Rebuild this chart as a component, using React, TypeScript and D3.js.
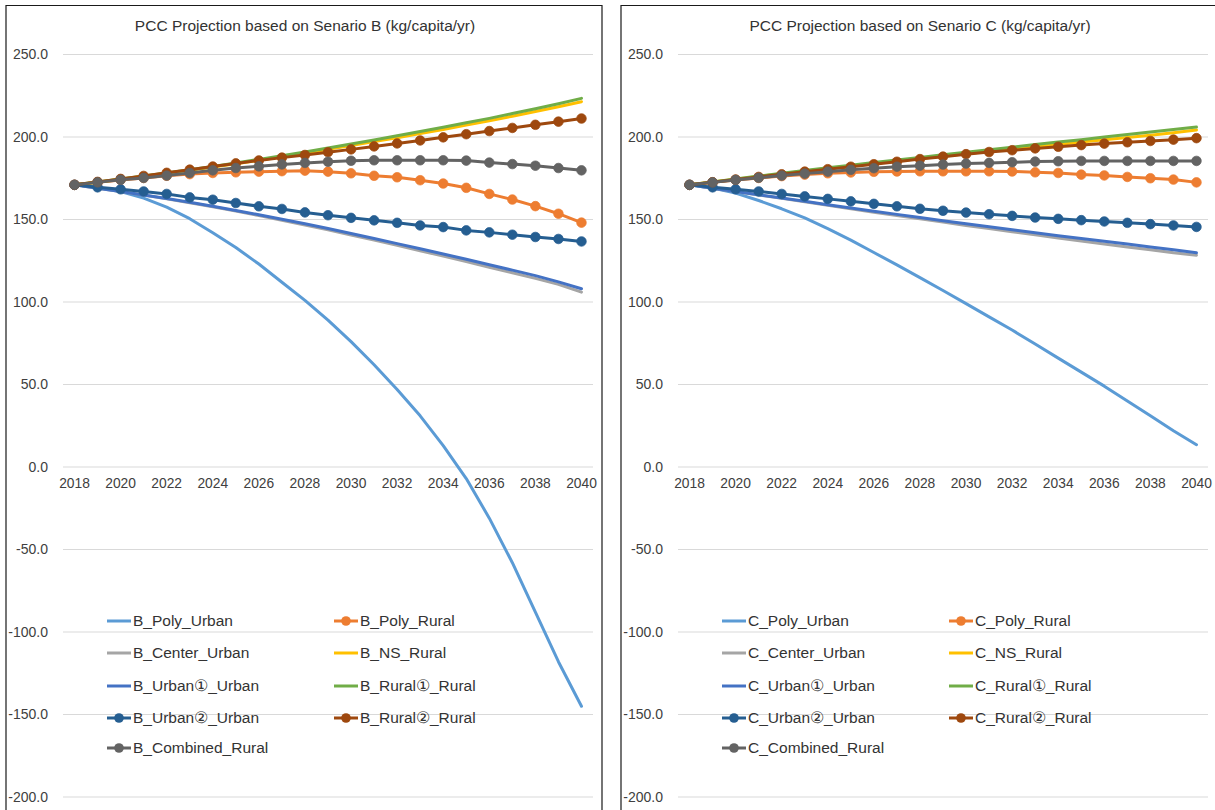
import React from "react";
import * as d3 from "d3";

const years = [2018, 2019, 2020, 2021, 2022, 2023, 2024, 2025, 2026, 2027, 2028, 2029, 2030, 2031, 2032, 2033, 2034, 2035, 2036, 2037, 2038, 2039, 2040];
const xTickYears = [2018, 2020, 2022, 2024, 2026, 2028, 2030, 2032, 2034, 2036, 2038, 2040];
const yTicks = [-200, -150, -100, -50, 0, 50, 100, 150, 200, 250];

// Scenario B
const bPolyUrban = [171, 169.5, 167, 163, 157.5, 150.5, 142, 133, 123, 112, 101, 89, 76, 62, 47, 31, 13, -7, -31, -58, -88, -118, -145];
const bPolyRural = [171, 172.5, 174, 175.2, 176.5, 177.5, 178.2, 178.6, 179, 179.3, 179.6, 179, 178, 176.5, 175.6, 173.8, 171.8, 169.2, 165.5, 162.1, 158.1, 153.5, 148.1];
const bCenterUrban = [171, 169, 166.9, 164.8, 162.5, 160.1, 157.7, 155.1, 152.4, 149.6, 146.7, 143.7, 140.6, 137.5, 134.3, 131.1, 127.8, 124.5, 121.1, 117.7, 114.3, 110.7, 106];
const bNSRural = [171, 172.6, 174.4, 176.2, 178, 179.9, 181.8, 183.8, 185.9, 188, 190.2, 192.5, 194.8, 197.2, 199.6, 202.1, 204.6, 207.2, 209.8, 212.6, 215.4, 218.3, 221.4];
const bUrban1 = [171, 169, 167, 164.9, 162.7, 160.4, 158, 155.5, 152.9, 150.2, 147.4, 144.5, 141.5, 138.5, 135.4, 132.3, 129.1, 125.9, 122.6, 119.3, 116, 112.2, 108];
const bRural1 = [171, 172.7, 174.5, 176.3, 178.2, 180.1, 182.1, 184.2, 186.4, 188.6, 190.9, 193.3, 195.7, 198.2, 200.7, 203.3, 205.9, 208.6, 211.3, 214.2, 217.1, 220.2, 223.4];
const bUrban2 = [171, 169.5, 168.3, 167, 165.5, 163.4, 162, 160, 158, 156.4, 154.3, 152.6, 151, 149.5, 148, 146.4, 145.4, 143.4, 142.2, 140.8, 139.4, 138.2, 136.7];
const bRural2 = [171, 172.8, 174.6, 176.4, 178.3, 180.2, 182.1, 184, 185.8, 187.5, 189.1, 190.8, 192.5, 194.3, 196.1, 197.9, 199.8, 201.7, 203.6, 205.5, 207.4, 209.3, 211.2];
const bCombined = [171, 172.5, 174.1, 175.2, 176.6, 178.2, 179.8, 181.2, 182.2, 183.4, 184.3, 185, 185.6, 185.9, 185.9, 185.9, 185.9, 185.7, 184.5, 183.6, 182.6, 181.2, 179.8];

// Scenario C
const cPolyUrban = [171, 169, 166, 161.5, 156.5, 151, 144.5, 137.5, 130, 122.5, 114.8, 107, 99, 91, 83, 74.5, 66, 57.5, 49, 40, 31, 22, 13.5];
const cPolyRural = [171, 172.5, 174, 175.2, 176.3, 177.2, 178, 178.5, 178.9, 179.1, 179.2, 179.2, 179.2, 179.2, 179.1, 178.6, 178.2, 177.2, 176.7, 175.8, 175, 174.2, 172.5];
const cCenterUrban = [171, 169, 166.9, 164.9, 162.8, 160.7, 158.6, 156.5, 154.4, 152.4, 150.4, 148.4, 146.4, 144.5, 142.6, 140.7, 138.8, 137, 135.2, 133.4, 131.6, 129.8, 128.4];
const cNSRural = [171, 172.7, 174.4, 176.1, 177.7, 179.3, 180.9, 182.4, 183.9, 185.4, 186.9, 188.4, 189.8, 191.3, 192.7, 194.1, 195.5, 196.9, 198.3, 199.7, 201.1, 202.6, 204.3];
const cUrban1 = [171, 169, 167, 165, 163, 161, 159, 157, 155, 153.1, 151.2, 149.3, 147.4, 145.6, 143.8, 142, 140.2, 138.5, 136.8, 135.1, 133.4, 131.6, 129.8];
const cRural1 = [171, 172.8, 174.6, 176.3, 178, 179.7, 181.3, 182.9, 184.5, 186.1, 187.6, 189.2, 190.7, 192.3, 193.8, 195.4, 196.9, 198.4, 200, 201.5, 203, 204.5, 206];
const cUrban2 = [171, 169.5, 168.3, 167, 165.5, 164, 162.5, 161, 159.5, 158, 156.5, 155.3, 154.2, 153.2, 152.2, 151.2, 150.4, 149.6, 148.8, 148, 147.2, 146.4, 145.5];
const cRural2 = [171, 172.6, 174.2, 175.8, 177.4, 179, 180.5, 182, 183.5, 185, 186.6, 188.1, 189.6, 190.9, 192, 193.1, 194.1, 195.1, 196, 196.8, 197.6, 198.4, 199.3];
const cCombined = [171, 172.5, 174, 175.3, 176.6, 177.8, 179, 180.1, 181.1, 182, 182.6, 183.3, 183.9, 184.3, 184.7, 185.1, 185.3, 185.5, 185.5, 185.5, 185.5, 185.5, 185.5];

const seriesSuffixes = ["Poly_Urban", "Poly_Rural", "Center_Urban", "NS_Rural", "Urban①_Urban", "Rural①_Rural", "Urban②_Urban", "Rural②_Rural", "Combined_Rural"];
const seriesColors = ["#5B9BD5", "#ED7D31", "#A5A5A5", "#FFC000", "#4472C4", "#70AD47", "#255E91", "#9E480E", "#636363"];
const seriesMarkers = [false, true, false, false, false, false, true, true, true];

const FONT = "'Liberation Sans', Arial, Helvetica, sans-serif";

const yScale = d3.scaleLinear().domain([-200, 250]).range([797, 54.5]);

function Panel({ ox, title, prefix, data }: { ox: number; title: string; prefix: string; data: number[][] }) {
  const x = d3.scalePoint<number>().domain(years).range([63 + ox, 593 + ox]).padding(0.5);
  const line = d3
    .line<number>()
    .x((_, i) => x(years[i]) as number)
    .y((d) => yScale(d));

  const legendCols = [107 + ox, 334 + ox];
  const legendRows = [621, 653, 686, 718, 748];

  return (
    <g>
      <path d={`M${6 + ox},820 V5.5 H${602 + ox} V820`} fill="none" stroke="#1a1a1a" strokeWidth={1.2} />
      <text x={305 + ox} y={30.5} textAnchor="middle" fontFamily={FONT} fontSize={15.5} fill="#333">
        {title}
      </text>
      {yTicks.map((t) => (
        <g key={t}>
          <line x1={63 + ox} x2={593 + ox} y1={yScale(t)} y2={yScale(t)} stroke="#D9D9D9" strokeWidth={1} />
          <text x={48 + ox} y={yScale(t)} dy="0.35em" textAnchor="end" fontFamily={FONT} fontSize={14} fill="#404040">
            {t.toFixed(1)}
          </text>
        </g>
      ))}
      {xTickYears.map((yr) => (
        <text key={yr} x={x(yr)} y={487.5} textAnchor="middle" fontFamily={FONT} fontSize={13.8} fill="#404040">
          {yr}
        </text>
      ))}
      {data.map((vals, si) => (
        <g key={si}>
          <path d={line(vals) || ""} fill="none" stroke={seriesColors[si]} strokeWidth={3} strokeLinejoin="round" strokeLinecap="round" />
          {seriesMarkers[si] &&
            vals.map((v, i) => <circle key={i} cx={x(years[i])} cy={yScale(v)} r={4.8} fill={seriesColors[si]} stroke={seriesColors[si]} strokeWidth={0.75} />)}
        </g>
      ))}
      {seriesSuffixes.map((s, si) => {
        const lx = legendCols[si % 2];
        const ly = legendRows[Math.floor(si / 2)];
        return (
          <g key={s}>
            <line x1={lx} x2={lx + 24} y1={ly} y2={ly} stroke={seriesColors[si]} strokeWidth={3} />
            {seriesMarkers[si] && <circle cx={lx + 12} cy={ly} r={4.8} fill={seriesColors[si]} />}
            <text x={lx + 26} y={ly} dy="0.35em" fontFamily={FONT} fontSize={15.5} fill="#333">
              {prefix + "_" + s}
            </text>
          </g>
        );
      })}
    </g>
  );
}

export default function App() {
  const bData = [bPolyUrban, bPolyRural, bCenterUrban, bNSRural, bUrban1, bRural1, bUrban2, bRural2, bCombined];
  const cData = [cPolyUrban, cPolyRural, cCenterUrban, cNSRural, cUrban1, cRural1, cUrban2, cRural2, cCombined];
  return (
    <svg width={1215} height={810} style={{ position: "absolute", left: 0, top: 0, display: "block", background: "#fff" }}>
      <rect x={0} y={0} width={1215} height={810} fill="#fff" />
      <Panel ox={0} title="PCC Projection based on Senario B (kg/capita/yr)" prefix="B" data={bData} />
      <Panel ox={615} title="PCC Projection based on Senario C (kg/capita/yr)" prefix="C" data={cData} />
    </svg>
  );
}
